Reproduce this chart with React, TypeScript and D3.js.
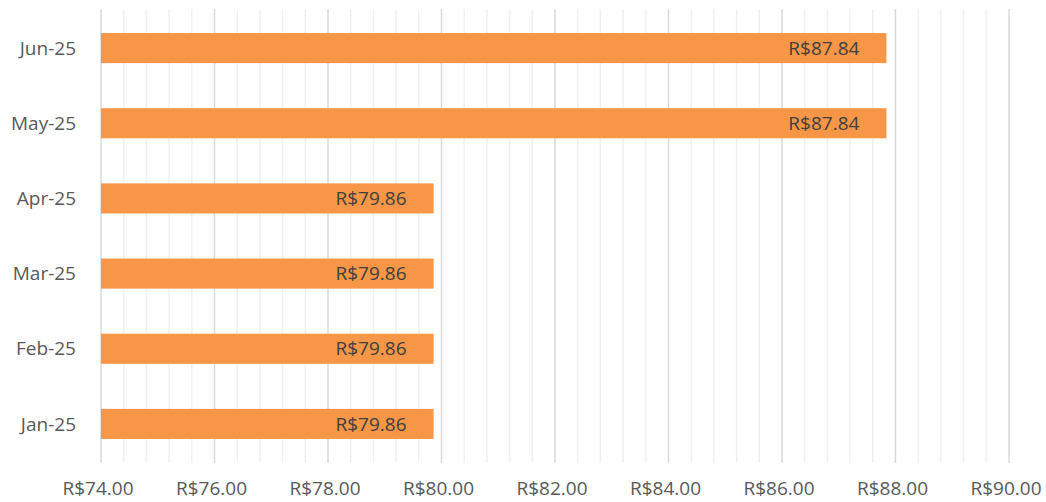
import { useEffect, useRef } from 'react'
import * as d3 from 'd3'

const months = ['Jan-25', 'Feb-25', 'Mar-25', 'Apr-25', 'May-25', 'Jun-25']
const prices = [79.86, 79.86, 79.86, 79.86, 87.84, 87.84]
const xTicks = [74, 76, 78, 80, 82, 84, 86, 88, 90]

const fmt = (v: number) => `R$${v.toFixed(2)}`

const App = () => {
  const svgRef = useRef<SVGSVGElement>(null)

  useEffect(() => {
    if (!svgRef.current) return
    const W = 1046
    const H = 502
    const margin = { top: 9, right: 37, bottom: 39, left: 101 }

    const svg = d3.select(svgRef.current)
    svg.selectAll('*').remove()
    svg.attr('width', W).attr('height', H)

    const font = '"Open Sans", "Liberation Sans", sans-serif'
    const fs = '19px'

    const x = d3.scaleLinear().domain([74, 90]).range([margin.left, W - margin.right])
    const y = d3
      .scaleBand<string>()
      .domain([...months].reverse())
      .range([margin.top, H - margin.bottom])
      .paddingInner(0.6)
      .paddingOuter(0.32)

    // minor grid lines every 0.4
    const minor = d3.range(74, 90.001, 0.4).filter((v) => Math.abs(v / 2 - Math.round(v / 2)) > 0.01)
    svg
      .append('g')
      .selectAll('line')
      .data(minor)
      .enter()
      .append('line')
      .attr('x1', (d) => x(d))
      .attr('x2', (d) => x(d))
      .attr('y1', margin.top)
      .attr('y2', H - margin.bottom)
      .attr('stroke', '#f0f0f0')
      .attr('stroke-width', 1.5)

    // major grid lines
    svg
      .append('g')
      .selectAll('line')
      .data(xTicks)
      .enter()
      .append('line')
      .attr('x1', (d) => x(d))
      .attr('x2', (d) => x(d))
      .attr('y1', margin.top)
      .attr('y2', H - margin.bottom)
      .attr('stroke', '#d9d9d9')
      .attr('stroke-width', 1.5)

    // bars
    svg
      .append('g')
      .selectAll('rect')
      .data(months)
      .enter()
      .append('rect')
      .attr('x', x(74))
      .attr('y', (d) => y(d)!)
      .attr('width', (d, i) => x(prices[i]) - x(74))
      .attr('height', y.bandwidth())
      .attr('fill', '#f79646')

    // value labels
    svg
      .append('g')
      .selectAll('text')
      .data(months)
      .enter()
      .append('text')
      .attr('x', (d, i) => x(prices[i]) - 27)
      .attr('y', (d) => y(d)! + y.bandwidth() / 2)
      .attr('dy', '0.35em')
      .attr('text-anchor', 'end')
      .style('font-family', font)
      .style('font-size', fs)
      .style('fill', '#404040')
      .text((d, i) => fmt(prices[i]))

    // category labels
    svg
      .append('g')
      .selectAll('text')
      .data(months)
      .enter()
      .append('text')
      .attr('x', 76)
      .attr('y', (d) => y(d)! + y.bandwidth() / 2)
      .attr('dy', '0.35em')
      .attr('text-anchor', 'end')
      .style('font-family', font)
      .style('font-size', fs)
      .style('fill', '#595959')
      .text((d) => d)

    // x tick labels
    svg
      .append('g')
      .selectAll('text')
      .data(xTicks)
      .enter()
      .append('text')
      .attr('x', (d) => x(d) - 3)
      .attr('y', 495)
      .attr('text-anchor', 'middle')
      .style('font-family', font)
      .style('font-size', fs)
      .style('fill', '#595959')
      .text((d) => fmt(d))
  }, [])

  return <svg ref={svgRef} style={{ position: 'absolute', left: 0, top: 0 }}></svg>
}

export default App
